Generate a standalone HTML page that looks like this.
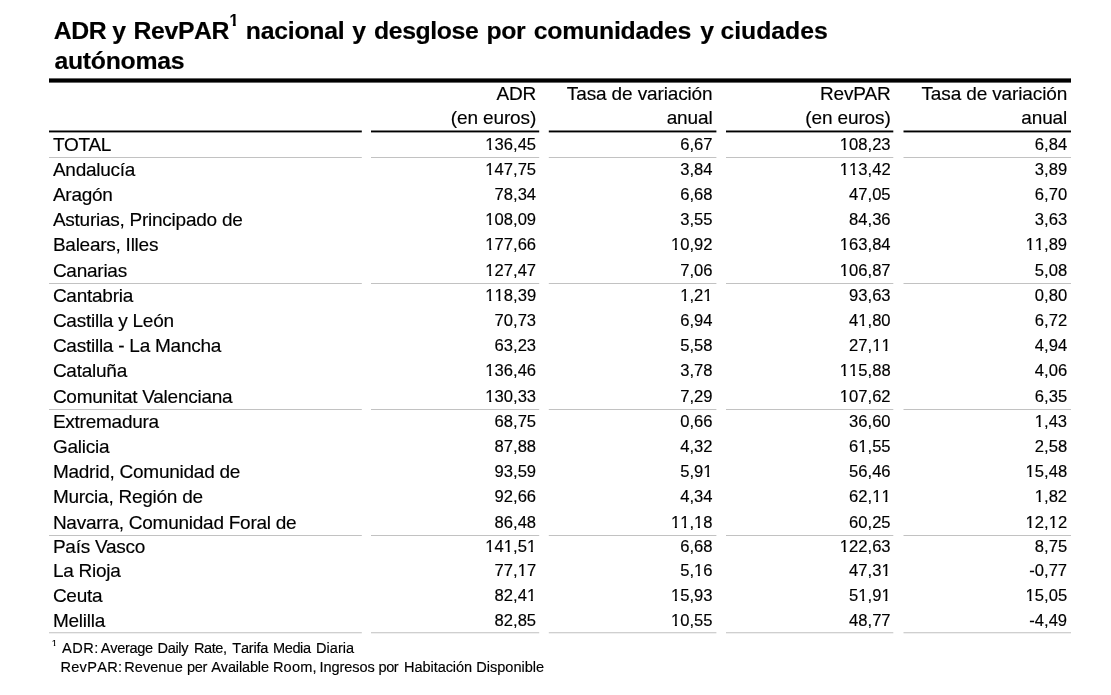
<!DOCTYPE html>
<html lang="es"><head><meta charset="utf-8">
<title>ADR y RevPAR nacional y desglose por comunidades y ciudades autónomas</title>
<style>
html,body{margin:0;padding:0;background:#fff;}
body{width:1111px;height:695px;position:relative;overflow:hidden;will-change:transform;-webkit-font-smoothing:antialiased;font-family:"Liberation Sans",sans-serif;color:#000;}
.t{position:absolute;white-space:nowrap;margin:0;padding:0;-webkit-text-stroke:0.15px #000;}
.t span{position:absolute;top:0;}
.lab{font-size:19.0px;line-height:22px;left:52.9px;letter-spacing:-0.25px;}
.num{font-size:16.6px;line-height:20px;text-align:right;}
.num i{font-style:normal;display:inline-block;clip-path:polygon(0 0,100% 0,100% 13px,0.36em 13px,0.36em 100%,0.232em 100%,0.232em 13px,0 13px);}
.hdr{font-size:19.0px;line-height:22px;text-align:right;letter-spacing:-0.13px;}
.title{font-size:24.8px;line-height:28px;font-weight:bold;left:0;font-kerning:none;}
.tsup{font-size:16px;line-height:18px;font-weight:bold;left:0;}
.tsup span{clip-path:polygon(0 0,100% 0,100% 11.9px,6.3px 11.9px,6.3px 100%,3.4px 100%,3.4px 11.9px,0 11.9px);}
.foot{font-size:14.55px;line-height:18px;left:0;font-kerning:none;}
.fsup{font-size:9.5px;line-height:12px;left:0;}
.fsup span{clip-path:polygon(0 0,100% 0,100% 8px,3.5px 8px,3.5px 100%,2.1px 100%,2.1px 8px,0 8px);}
svg{position:absolute;left:0;top:0;}
</style></head><body>

<svg width="1111" height="695" viewBox="0 0 1111 695">
<rect x="49" y="78.4" width="1022" height="4.2" fill="#000"/>
<rect x="49" y="130.5" width="312.8" height="1.9" fill="#000"/>
<rect x="371" y="130.5" width="168.2" height="1.9" fill="#000"/>
<rect x="548.8" y="130.5" width="167.6" height="1.9" fill="#000"/>
<rect x="726" y="130.5" width="167.3" height="1.9" fill="#000"/>
<rect x="903.5" y="130.5" width="167.5" height="1.9" fill="#000"/>
<rect x="49" y="157" width="312.8" height="1" fill="#c2c2c2"/>
<rect x="371" y="157" width="168.2" height="1" fill="#c2c2c2"/>
<rect x="548.8" y="157" width="167.6" height="1" fill="#c2c2c2"/>
<rect x="726" y="157" width="167.3" height="1" fill="#c2c2c2"/>
<rect x="903.5" y="157" width="167.5" height="1" fill="#c2c2c2"/>
<rect x="49" y="283" width="312.8" height="1" fill="#c2c2c2"/>
<rect x="371" y="283" width="168.2" height="1" fill="#c2c2c2"/>
<rect x="548.8" y="283" width="167.6" height="1" fill="#c2c2c2"/>
<rect x="726" y="283" width="167.3" height="1" fill="#c2c2c2"/>
<rect x="903.5" y="283" width="167.5" height="1" fill="#c2c2c2"/>
<rect x="49" y="409" width="312.8" height="1" fill="#c2c2c2"/>
<rect x="371" y="409" width="168.2" height="1" fill="#c2c2c2"/>
<rect x="548.8" y="409" width="167.6" height="1" fill="#c2c2c2"/>
<rect x="726" y="409" width="167.3" height="1" fill="#c2c2c2"/>
<rect x="903.5" y="409" width="167.5" height="1" fill="#c2c2c2"/>
<rect x="49" y="535" width="312.8" height="1" fill="#c2c2c2"/>
<rect x="371" y="535" width="168.2" height="1" fill="#c2c2c2"/>
<rect x="548.8" y="535" width="167.6" height="1" fill="#c2c2c2"/>
<rect x="726" y="535" width="167.3" height="1" fill="#c2c2c2"/>
<rect x="903.5" y="535" width="167.5" height="1" fill="#c2c2c2"/>
<rect x="49" y="632" width="312.8" height="1" fill="#cfcfcf"/>
<rect x="49" y="633" width="312.8" height="1" fill="#efefef"/>
<rect x="371" y="632" width="168.2" height="1" fill="#cfcfcf"/>
<rect x="371" y="633" width="168.2" height="1" fill="#efefef"/>
<rect x="548.8" y="632" width="167.6" height="1" fill="#cfcfcf"/>
<rect x="548.8" y="633" width="167.6" height="1" fill="#efefef"/>
<rect x="726" y="632" width="167.3" height="1" fill="#cfcfcf"/>
<rect x="726" y="633" width="167.3" height="1" fill="#efefef"/>
<rect x="903.5" y="632" width="167.5" height="1" fill="#cfcfcf"/>
<rect x="903.5" y="633" width="167.5" height="1" fill="#efefef"/>
</svg>
<div class="t title" style="top:17px;"><span id="w1" style="left:53.72px;letter-spacing:-0.400px;">ADR</span> <span id="w2" style="left:112.18px;">y</span> <span id="w3" style="left:133.60px;letter-spacing:-0.398px;">RevPAR</span> <span id="w4" style="left:245.76px;letter-spacing:-0.246px;">nacional</span> <span id="w5" style="left:352.35px;">y</span> <span id="w6" style="left:374.00px;letter-spacing:-0.400px;">desglose</span> <span id="w7" style="left:486.54px;letter-spacing:-0.400px;">por</span> <span id="w8" style="left:533.75px;letter-spacing:-0.224px;">comunidades</span> <span id="w9" style="left:700.23px;">y</span> <span id="w10" style="left:720.53px;letter-spacing:-0.040px;">ciudades</span></div>
<div class="t tsup" style="top:12px;"><span id="w11" style="left:229.48px;">1</span></div>
<div class="t title" style="top:47px;"><span id="w12" style="left:54.46px;letter-spacing:-0.285px;">autónomas</span></div>
<div class="t hdr" style="top:83px;right:574.90px;">ADR</div>
<div class="t hdr" style="top:107px;right:574.90px;">(en euros)</div>
<div class="t hdr" style="top:83px;right:398.50px;">Tasa de variación</div>
<div class="t hdr" style="top:107px;right:398.50px;">anual</div>
<div class="t hdr" style="top:83px;right:220.40px;">RevPAR</div>
<div class="t hdr" style="top:107px;right:220.40px;">(en euros)</div>
<div class="t hdr" style="top:83px;right:43.90px;">Tasa de variación</div>
<div class="t hdr" style="top:107px;right:43.90px;">anual</div>
<div class="t lab" style="top:134px;">TOTAL</div>
<div class="t num" style="top:135px;right:574.90px;"><i>1</i>36,45</div>
<div class="t num" style="top:135px;right:398.50px;">6,67</div>
<div class="t num" style="top:135px;right:220.40px;"><i>1</i>08,23</div>
<div class="t num" style="top:135px;right:43.90px;">6,84</div>
<div class="t lab" style="top:159px;">Andalucía</div>
<div class="t num" style="top:160px;right:574.90px;"><i>1</i>47,75</div>
<div class="t num" style="top:160px;right:398.50px;">3,84</div>
<div class="t num" style="top:160px;right:220.40px;"><i>1</i><i>1</i>3,42</div>
<div class="t num" style="top:160px;right:43.90px;">3,89</div>
<div class="t lab" style="top:184px;">Aragón</div>
<div class="t num" style="top:185px;right:574.90px;">78,34</div>
<div class="t num" style="top:185px;right:398.50px;">6,68</div>
<div class="t num" style="top:185px;right:220.40px;">47,05</div>
<div class="t num" style="top:185px;right:43.90px;">6,70</div>
<div class="t lab" style="top:209px;">Asturias, Principado de</div>
<div class="t num" style="top:210px;right:574.90px;"><i>1</i>08,09</div>
<div class="t num" style="top:210px;right:398.50px;">3,55</div>
<div class="t num" style="top:210px;right:220.40px;">84,36</div>
<div class="t num" style="top:210px;right:43.90px;">3,63</div>
<div class="t lab" style="top:234px;">Balears, Illes</div>
<div class="t num" style="top:235px;right:574.90px;"><i>1</i>77,66</div>
<div class="t num" style="top:235px;right:398.50px;"><i>1</i>0,92</div>
<div class="t num" style="top:235px;right:220.40px;"><i>1</i>63,84</div>
<div class="t num" style="top:235px;right:43.90px;"><i>1</i><i>1</i>,89</div>
<div class="t lab" style="top:260px;">Canarias</div>
<div class="t num" style="top:261px;right:574.90px;"><i>1</i>27,47</div>
<div class="t num" style="top:261px;right:398.50px;">7,06</div>
<div class="t num" style="top:261px;right:220.40px;"><i>1</i>06,87</div>
<div class="t num" style="top:261px;right:43.90px;">5,08</div>
<div class="t lab" style="top:285px;">Cantabria</div>
<div class="t num" style="top:286px;right:574.90px;"><i>1</i><i>1</i>8,39</div>
<div class="t num" style="top:286px;right:398.50px;"><i>1</i>,2<i>1</i></div>
<div class="t num" style="top:286px;right:220.40px;">93,63</div>
<div class="t num" style="top:286px;right:43.90px;">0,80</div>
<div class="t lab" style="top:310px;">Castilla y León</div>
<div class="t num" style="top:311px;right:574.90px;">70,73</div>
<div class="t num" style="top:311px;right:398.50px;">6,94</div>
<div class="t num" style="top:311px;right:220.40px;">4<i>1</i>,80</div>
<div class="t num" style="top:311px;right:43.90px;">6,72</div>
<div class="t lab" style="top:335px;">Castilla - La Mancha</div>
<div class="t num" style="top:336px;right:574.90px;">63,23</div>
<div class="t num" style="top:336px;right:398.50px;">5,58</div>
<div class="t num" style="top:336px;right:220.40px;">27,<i>1</i><i>1</i></div>
<div class="t num" style="top:336px;right:43.90px;">4,94</div>
<div class="t lab" style="top:360px;">Cataluña</div>
<div class="t num" style="top:361px;right:574.90px;"><i>1</i>36,46</div>
<div class="t num" style="top:361px;right:398.50px;">3,78</div>
<div class="t num" style="top:361px;right:220.40px;"><i>1</i><i>1</i>5,88</div>
<div class="t num" style="top:361px;right:43.90px;">4,06</div>
<div class="t lab" style="top:386px;">Comunitat Valenciana</div>
<div class="t num" style="top:387px;right:574.90px;"><i>1</i>30,33</div>
<div class="t num" style="top:387px;right:398.50px;">7,29</div>
<div class="t num" style="top:387px;right:220.40px;"><i>1</i>07,62</div>
<div class="t num" style="top:387px;right:43.90px;">6,35</div>
<div class="t lab" style="top:411px;">Extremadura</div>
<div class="t num" style="top:412px;right:574.90px;">68,75</div>
<div class="t num" style="top:412px;right:398.50px;">0,66</div>
<div class="t num" style="top:412px;right:220.40px;">36,60</div>
<div class="t num" style="top:412px;right:43.90px;"><i>1</i>,43</div>
<div class="t lab" style="top:436px;">Galicia</div>
<div class="t num" style="top:437px;right:574.90px;">87,88</div>
<div class="t num" style="top:437px;right:398.50px;">4,32</div>
<div class="t num" style="top:437px;right:220.40px;">6<i>1</i>,55</div>
<div class="t num" style="top:437px;right:43.90px;">2,58</div>
<div class="t lab" style="top:461px;">Madrid, Comunidad de</div>
<div class="t num" style="top:462px;right:574.90px;">93,59</div>
<div class="t num" style="top:462px;right:398.50px;">5,9<i>1</i></div>
<div class="t num" style="top:462px;right:220.40px;">56,46</div>
<div class="t num" style="top:462px;right:43.90px;"><i>1</i>5,48</div>
<div class="t lab" style="top:486px;">Murcia, Región de</div>
<div class="t num" style="top:487px;right:574.90px;">92,66</div>
<div class="t num" style="top:487px;right:398.50px;">4,34</div>
<div class="t num" style="top:487px;right:220.40px;">62,<i>1</i><i>1</i></div>
<div class="t num" style="top:487px;right:43.90px;"><i>1</i>,82</div>
<div class="t lab" style="top:512px;">Navarra, Comunidad Foral de</div>
<div class="t num" style="top:513px;right:574.90px;">86,48</div>
<div class="t num" style="top:513px;right:398.50px;"><i>1</i><i>1</i>,<i>1</i>8</div>
<div class="t num" style="top:513px;right:220.40px;">60,25</div>
<div class="t num" style="top:513px;right:43.90px;"><i>1</i>2,<i>1</i>2</div>
<div class="t lab" style="top:536px;">País Vasco</div>
<div class="t num" style="top:537px;right:574.90px;"><i>1</i>4<i>1</i>,5<i>1</i></div>
<div class="t num" style="top:537px;right:398.50px;">6,68</div>
<div class="t num" style="top:537px;right:220.40px;"><i>1</i>22,63</div>
<div class="t num" style="top:537px;right:43.90px;">8,75</div>
<div class="t lab" style="top:560px;">La Rioja</div>
<div class="t num" style="top:561px;right:574.90px;">77,<i>1</i>7</div>
<div class="t num" style="top:561px;right:398.50px;">5,<i>1</i>6</div>
<div class="t num" style="top:561px;right:220.40px;">47,3<i>1</i></div>
<div class="t num" style="top:561px;right:43.90px;">-0,77</div>
<div class="t lab" style="top:585px;">Ceuta</div>
<div class="t num" style="top:586px;right:574.90px;">82,4<i>1</i></div>
<div class="t num" style="top:586px;right:398.50px;"><i>1</i>5,93</div>
<div class="t num" style="top:586px;right:220.40px;">5<i>1</i>,9<i>1</i></div>
<div class="t num" style="top:586px;right:43.90px;"><i>1</i>5,05</div>
<div class="t lab" style="top:610px;">Melilla</div>
<div class="t num" style="top:611px;right:574.90px;">82,85</div>
<div class="t num" style="top:611px;right:398.50px;"><i>1</i>0,55</div>
<div class="t num" style="top:611px;right:220.40px;">48,77</div>
<div class="t num" style="top:611px;right:43.90px;">-4,49</div>
<div class="t fsup" style="top:637px;"><span id="w13" style="left:51.74px;">1</span></div>
<div class="t foot" style="top:639px;"><span id="w14" style="left:62.03px;letter-spacing:0.500px;">ADR:</span> <span id="w15" style="left:100.77px;letter-spacing:-0.302px;">Average</span> <span id="w16" style="left:157.50px;letter-spacing:-0.324px;">Daily</span> <span id="w17" style="left:193.90px;letter-spacing:-0.400px;">Rate,</span> <span id="w18" style="left:232.36px;letter-spacing:-0.244px;">Tarifa</span> <span id="w19" style="left:273.00px;letter-spacing:-0.400px;">Media</span> <span id="w20" style="left:316.10px;">Diaria</span></div>
<div class="t foot" style="top:658px;"><span id="w21" style="left:60.40px;letter-spacing:0.299px;">RevPAR:</span> <span id="w22" style="left:124.20px;letter-spacing:0.055px;">Revenue</span> <span id="w23" style="left:187.08px;letter-spacing:-0.400px;">per</span> <span id="w24" style="left:211.28px;letter-spacing:-0.161px;">Available</span> <span id="w25" style="left:272.90px;letter-spacing:0.208px;">Room,</span> <span id="w26" style="left:319.44px;letter-spacing:-0.059px;">Ingresos</span> <span id="w27" style="left:378.49px;letter-spacing:-0.400px;">por</span> <span id="w28" style="left:404.10px;letter-spacing:-0.080px;">Habitación</span> <span id="w29" style="left:476.20px;">Disponible</span></div>
</body></html>
